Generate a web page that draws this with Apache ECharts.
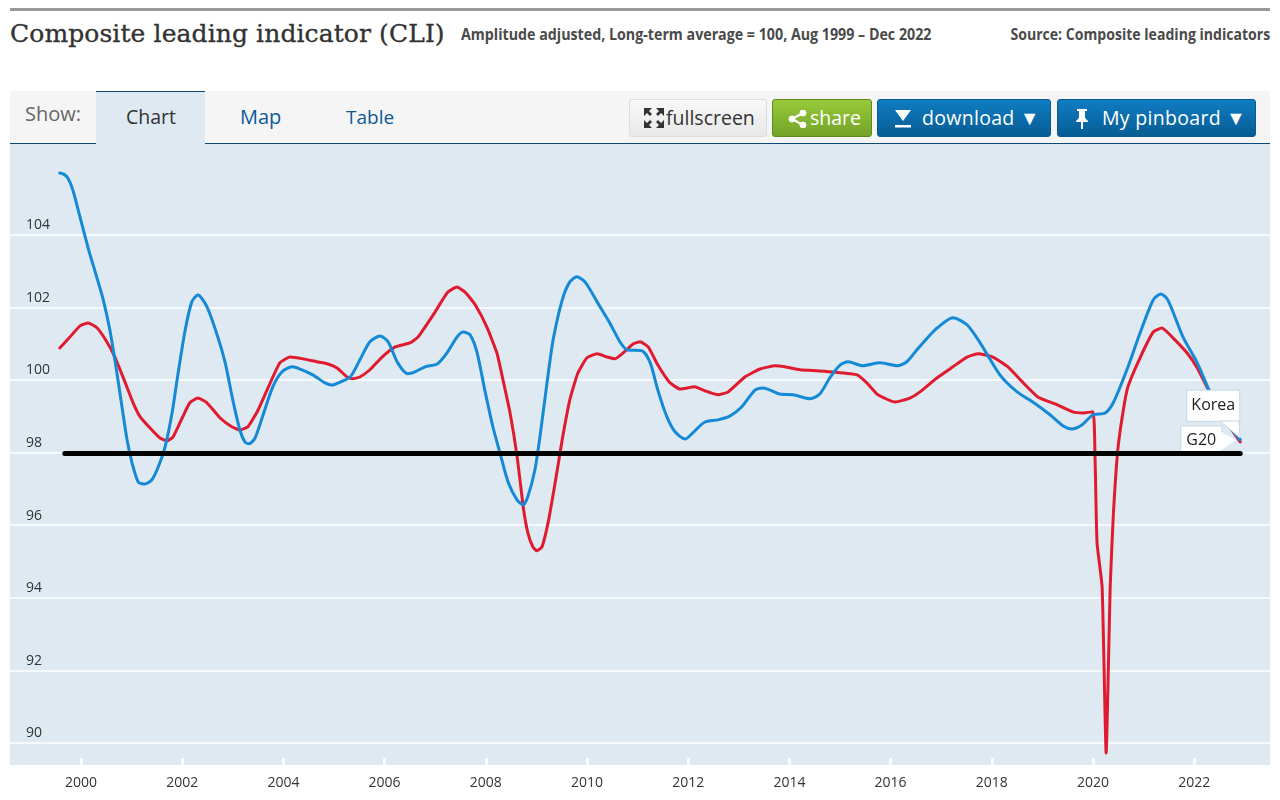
<!DOCTYPE html>
<html>
<head>
<meta charset="utf-8">
<script src="https://cdn.jsdelivr.net/npm/echarts@6/dist/echarts.min.js"></script>
<style>
html,body{margin:0;padding:0;width:1280px;height:800px;background:#fff;overflow:hidden;font-family:"Open Sans",sans-serif}
.a{position:absolute;white-space:nowrap}
#chart{position:absolute;left:0;top:0;width:1280px;height:800px}
.btn{position:absolute;top:99px;height:38px;border-radius:3px;box-sizing:border-box;color:#fff;font:19.5px/35px "Open Sans",sans-serif;white-space:nowrap;text-align:center}
.blue{background:linear-gradient(#0f7cc2,#075d94);border:1px solid #0a5a8e}
</style>
</head>
<body>
<div class="a" style="left:10px;top:8px;width:1260px;height:3px;background:#999"></div>
<div class="a" style="left:10px;top:15px;font:25px/38px 'DejaVu Serif',serif;color:#333;letter-spacing:0.1px;-webkit-text-stroke:.35px #333">Composite leading indicator (CLI)</div>
<div class="a" style="left:461px;top:23px;font:bold 16px/22px 'Open Sans',sans-serif;color:#4a4a4a;transform:scaleX(.89);transform-origin:left center">Amplitude adjusted, Long-term average = 100, Aug 1999 – Dec 2022</div>
<div class="a" style="right:10px;top:23px;font:bold 16px/22px 'Open Sans',sans-serif;color:#4a4a4a;transform:scaleX(.88);transform-origin:right center">Source: Composite leading indicators</div>

<div class="a" style="left:10px;top:91px;width:1260px;height:52px;background:#f5f5f5"></div>
<div class="a" style="left:10px;top:143px;width:1260px;height:1px;background:#0b4a78"></div>
<div class="a" style="left:96px;top:91px;width:109px;height:53px;background:#deE9f1;border-top:1px solid #0b4a78;box-sizing:border-box"></div>
<div class="a" style="left:25px;top:100px;font:20px/28px 'Open Sans',sans-serif;color:#666">Show:</div>
<div class="a" style="left:126px;top:103px;font:19.5px/28px 'Open Sans',sans-serif;color:#333">Chart</div>
<div class="a" style="left:240px;top:103px;font:20px/28px 'Open Sans',sans-serif;color:#0b5a96">Map</div>
<div class="a" style="left:346px;top:103px;font:19px/28px 'Open Sans',sans-serif;color:#0b5a96">Table</div>

<div class="btn" style="left:629px;width:138px;background:linear-gradient(#f8f8f8,#e8e8e8);border:1px solid #ddd;color:#333;text-align:left;padding-left:36px">fullscreen
  <svg style="position:absolute;left:13px;top:7px" width="22" height="22" viewBox="0 0 22 22" fill="#333"><path d="M1 1h8L6 4l3 3-2 2-3-3-3 3zM21 1v8l-3-3-3 3-2-2 3-3-3-3zM1 21v-8l3 3 3-3 2 2-3 3 3 3zM21 21h-8l3-3-3-3 2-2 3 3 3-3z"/></svg>
</div>
<div class="btn" style="left:772px;width:100px;background:linear-gradient(#97c93a,#74a428);border:1px solid #5f8a1e;text-align:left;padding-left:37px">share
  <svg style="position:absolute;left:15px;top:10px" width="20" height="18" viewBox="0 0 20 18" fill="#fff" stroke="#fff"><circle cx="4" cy="9" r="3"/><circle cx="15" cy="3" r="3"/><circle cx="15" cy="15" r="3"/><path d="M4 9L15 3M4 9l11 6" stroke-width="2"/></svg>
</div>
<div class="btn blue" style="left:877px;width:174px;text-align:left;padding-left:44px;letter-spacing:.3px">download ▼
  <svg style="position:absolute;left:15px;top:9px" width="20" height="20" viewBox="0 0 20 20" fill="#fff"><path d="M2 1h16l-8 11z"/><rect x="2" y="16" width="16" height="2.5"/></svg>
</div>
<div class="btn blue" style="left:1057px;width:199px;text-align:left;padding-left:44px;letter-spacing:.3px">My pinboard ▼
  <svg style="position:absolute;left:16px;top:8px" width="16" height="22" viewBox="0 0 16 22" fill="#fff"><path d="M3 1h10v2h-2v7l3 3v1H9v7H7v-7H2v-1l3-3V3H3z"/></svg>
</div>

<div id="chart"></div>
<script>
const xTickLabels = [2000,2002,2004,2006,2008,2010,2012,2014,2016,2018,2020,2022];
const yTickLabels = [90,92,94,96,98,100,102,104];

const koreaYears = [1999.58,1999.66,1999.74,1999.84,1999.98,2000.14,2000.28,2000.43,2000.57,2000.71,2000.81,2000.91,2001.01,2001.13,2001.26,2001.40,2001.52,2001.66,2001.80,2001.92,2002.06,2002.19,2002.31,2002.49,2002.69,2002.85,2003.00,2003.14,2003.24,2003.32,2003.44,2003.60,2003.79,2003.97,2004.17,2004.33,2004.58,2004.82,2004.96,2005.12,2005.32,2005.51,2005.71,2005.91,2006.07,2006.26,2006.46,2006.60,2006.80,2007.04,2007.23,2007.43,2007.55,2007.69,2007.83,2007.98,2008.14,2008.28,2008.44,2008.62,2008.74,2008.83,2008.97,2009.07,2009.21,2009.33,2009.51,2009.66,2009.80,2009.96,2010.20,2010.45,2010.65,2010.79,2011.09,2011.25,2011.40,2011.58,2011.74,2011.94,2012.09,2012.33,2012.59,2012.83,2013.06,2013.32,2013.48,2013.81,2014.07,2014.41,2014.60,2014.80,2015.00,2015.16,2015.45,2015.79,2016.13,2016.32,2016.52,2016.78,2016.92,2017.23,2017.51,2017.77,2018.16,2018.50,2018.81,2019.15,2019.41,2019.58,2019.78,2020.00,2020.24,2020.40,2020.67,2020.93,2021.19,2021.34,2021.48,2021.78,2022.06,2022.31,2022.65,2022.91];
const koreaValues = [105.70,105.67,105.56,105.23,104.49,103.64,102.98,102.26,101.38,100.19,99.26,98.35,97.71,97.19,97.13,97.25,97.58,98.15,99.09,100.19,101.38,102.15,102.34,102.01,101.24,100.47,99.45,98.62,98.29,98.24,98.40,99.04,99.81,100.22,100.36,100.30,100.14,99.92,99.86,99.94,100.08,100.55,101.05,101.21,101.05,100.47,100.17,100.22,100.36,100.44,100.74,101.18,101.32,101.24,100.74,99.72,98.71,97.99,97.19,96.69,96.56,96.78,97.52,98.43,99.92,101.10,102.20,102.70,102.84,102.70,102.15,101.57,101.05,100.83,100.80,100.47,99.72,98.98,98.57,98.37,98.54,98.84,98.90,99.01,99.26,99.72,99.78,99.61,99.59,99.48,99.61,100.06,100.41,100.50,100.39,100.47,100.39,100.50,100.83,101.24,101.43,101.71,101.52,101.02,100.14,99.67,99.39,99.04,98.73,98.65,98.76,99.04,99.09,99.37,100.28,101.29,102.20,102.37,102.20,101.18,100.47,99.67,98.82,98.35];

const g20Years = [1999.58,1999.78,1999.98,2000.14,2000.32,2000.51,2000.67,2000.87,2001.03,2001.17,2001.36,2001.56,2001.70,2001.82,2002.00,2002.15,2002.31,2002.49,2002.75,2002.98,2003.14,2003.30,2003.50,2003.74,2003.93,2004.13,2004.39,2004.66,2004.88,2005.06,2005.26,2005.36,2005.51,2005.71,2005.95,2006.21,2006.50,2006.66,2006.96,2007.25,2007.43,2007.59,2007.79,2008.02,2008.22,2008.34,2008.48,2008.62,2008.74,2008.83,2008.93,2009.01,2009.11,2009.23,2009.37,2009.51,2009.66,2009.82,2010.00,2010.20,2010.40,2010.55,2010.71,2010.91,2011.05,2011.21,2011.40,2011.64,2011.84,2012.13,2012.33,2012.59,2012.79,2013.12,2013.42,2013.72,2013.91,2014.21,2014.55,2014.86,2015.34,2015.53,2015.75,2016.09,2016.38,2016.58,2016.92,2017.23,2017.51,2017.73,2018.02,2018.32,2018.62,2018.91,2019.25,2019.60,2019.80,2020.00,2020.04,2020.08,2020.18,2020.26,2020.34,2020.40,2020.49,2020.59,2020.69,2020.93,2021.19,2021.36,2021.58,2021.86,2022.06,2022.25,2022.65,2022.91];
const g20Values = [100.88,101.18,101.49,101.57,101.43,101.05,100.63,99.94,99.37,98.98,98.68,98.40,98.32,98.43,98.95,99.37,99.50,99.37,98.95,98.71,98.62,98.71,99.17,99.92,100.47,100.63,100.58,100.50,100.44,100.33,100.08,100.03,100.08,100.28,100.63,100.91,101.02,101.18,101.79,102.42,102.56,102.42,102.07,101.46,100.74,100.00,99.09,97.88,96.50,95.79,95.40,95.29,95.40,96.06,97.16,98.35,99.45,100.19,100.61,100.72,100.63,100.58,100.74,100.99,101.05,100.91,100.41,99.92,99.75,99.81,99.70,99.59,99.67,100.08,100.30,100.39,100.36,100.28,100.25,100.22,100.14,99.92,99.59,99.39,99.50,99.67,100.06,100.36,100.63,100.72,100.63,100.36,99.92,99.53,99.34,99.12,99.09,99.12,97.88,95.51,94.30,89.72,94.30,96.23,98.07,99.09,99.81,100.61,101.32,101.43,101.16,100.74,100.33,99.81,98.82,98.29];

const refYears = [1999.68,2022.91];
const refValues = [97.97,97.97];

const zip = (xs,ys) => xs.map((x,i)=>[x,ys[i]]);
const chart = echarts.init(document.getElementById('chart'), null, {renderer:'canvas'});
const boxLabel = (text, offset, w, h) => ({
  show:true, formatter:text, offset, color:'#222', fontFamily:'Open Sans', fontSize:16,
  backgroundColor:'#fff', borderColor:'#c4d9e8', borderWidth:1,
  width:w, height:h, lineHeight:h, align:'center', verticalAlign:'middle'
});
chart.setOption({
  animation:false,
  grid:{left:10,right:10,top:144,height:621,show:true,backgroundColor:'#deE9f1',borderWidth:0},
  xAxis:{type:'value',min:1998.597,max:2023.498,
    axisLine:{show:false},
    axisTick:{show:true,inside:true,length:7,lineStyle:{color:'#fff',width:2.5},customValues:xTickLabels},
    axisLabel:{color:'#333',fontFamily:'Open Sans',fontSize:14,margin:11,customValues:xTickLabels,formatter:v=>String(v),hideOverlap:false},
    splitLine:{show:false}},
  yAxis:{type:'value',min:89.39,max:106.5,
    axisLine:{show:false},
    axisTick:{show:false,customValues:yTickLabels},
    axisLabel:{inside:true,color:'#333',fontFamily:'Open Sans',fontSize:14,margin:16,align:'left',verticalAlign:'bottom',lineHeight:19,customValues:yTickLabels,formatter:v=>String(v)},
    splitLine:{show:true,lineStyle:{color:'#fff',width:1.5}}},
  graphic:[
    {type:'polygon',z:20,shape:{points:[[1220,421],[1240,438],[1239,421]]},style:{fill:'#fff',stroke:'#c4d9e8'}},
    {type:'polygon',z:20,shape:{points:[[1220,431],[1236,440],[1220,451]]},style:{fill:'#fff'}}
  ],
  series:[
    {name:'G20',type:'line',data:zip(g20Years,g20Values),symbol:'none',smooth:0.15,
     lineStyle:{color:'#e01b2f',width:3,cap:'round',join:'round'},z:3,
     endLabel:boxLabel('G20',[-47,-2],40,27)},
    {name:'Korea',type:'line',data:zip(koreaYears,koreaValues),symbol:'none',smooth:0.25,
     lineStyle:{color:'#1489d6',width:3,cap:'round',join:'round'},z:4,
     endLabel:boxLabel('Korea',[-35,-34],52,30)},
    {name:'ref',type:'line',data:zip(refYears,refValues),symbol:'none',
     lineStyle:{color:'#000',width:5,cap:'round'},z:5,silent:true}
  ]
});
</script>
</body>
</html>
